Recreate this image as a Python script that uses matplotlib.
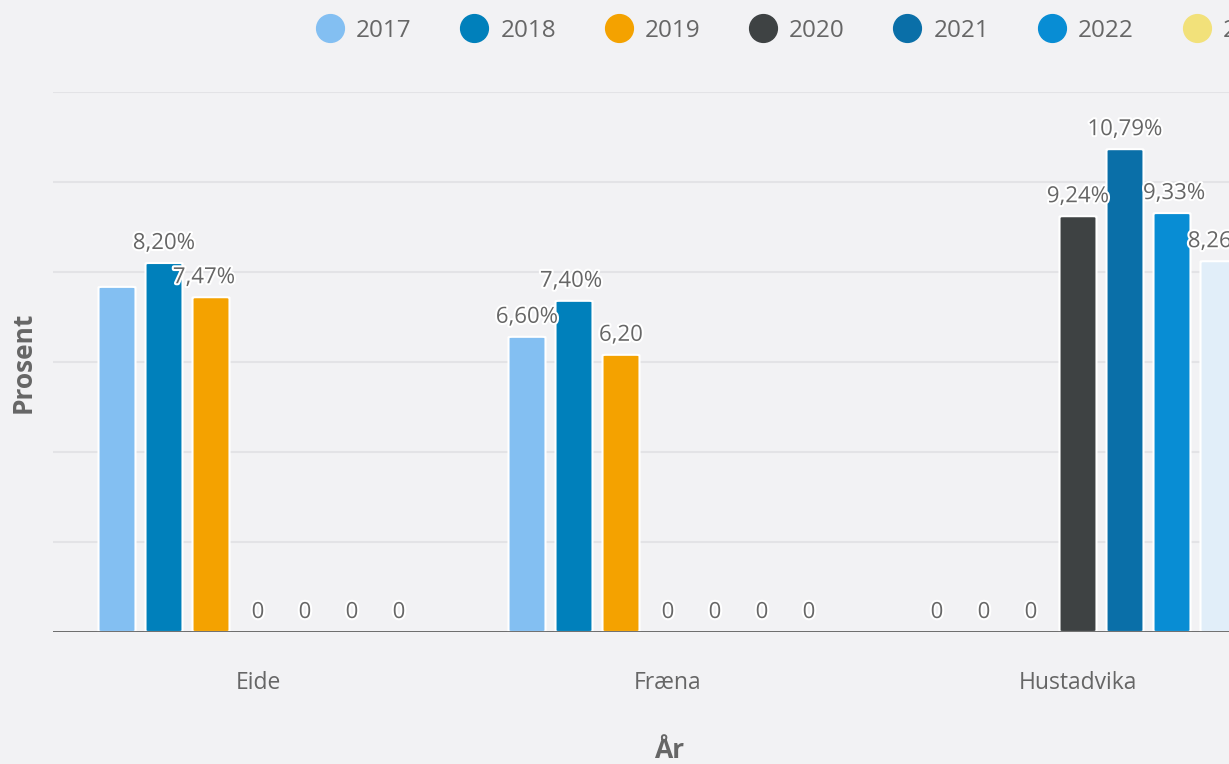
#!/usr/bin/env python3
import numpy as np
from matplotlib import pyplot as plt
from matplotlib import patheffects as pe
from matplotlib.lines import Line2D
from matplotlib.patches import FancyBboxPatch

categories = ['Eide', 'Fræna', 'Hustadvika']
years = ['2017', '2018', '2019', '2020', '2021', '2022', '2023']
values = {
  '2017': [7.67, 6.56, 0],
  '2018': [8.20, 7.36, 0],
  '2019': [7.44, 6.16, 0],
  '2020': [0, 0, 9.24],
  '2021': [0, 0, 10.73],
  '2022': [0, 0, 9.31],
  '2023': [0, 0, 8.24],
}
# labels as shown on the chart (None = hidden by overlap)
labels = {
  '2017': [None, '6,60%', '0'],
  '2018': ['8,20%', '7,40%', '0'],
  '2019': ['7,47%', '6,20', '0'],
  '2020': ['0', '0', '9,24%'],
  '2021': ['0', '0', '10,79%'],
  '2022': ['0', '0', '9,33%'],
  '2023': ['0', '0', '8,26%'],
}
label_shift = {('2019', 0): -0.017, ('2018', 1): -0.007, ('2022', 2): 0.005}
bar_colors = ['#83bff2', '#0080bb', '#f4a200', '#3e4243', '#0a6fa8', '#088dd4', '#e1eef9']
legend_colors = ['#83bff2', '#0080bb', '#f4a200', '#3e4243', '#0a6fa8', '#088dd4', '#f2e17a']

plt.rcParams['font.family'] = ['Open Sans', 'DejaVu Sans']
bg = '#f2f2f4'
txt = '#666666'

fig = plt.figure(figsize=(12.29, 7.64), dpi=100, facecolor=bg)
ax = fig.add_axes((53/1229, 132/764, 1230/1229, 540/764), facecolor=bg)

pitch = 47/410
bw = 37/410
x = np.arange(len(categories))
halo = [pe.withStroke(linewidth=3, foreground='white')]
for i, y in enumerate(years):
  off = (i-3)*pitch
  for j, v in enumerate(values[y]):
    xc = x[j]+off
    if v > 0:
      ax.add_patch(FancyBboxPatch((xc-bw/2, 0), bw, v,
        boxstyle='round,pad=0,rounding_size=0.01', mutation_aspect=1.2,
        fc=bar_colors[i], ec='white', lw=1.5, zorder=3))
    lab = labels[y][j]
    if lab:
      ax.text(xc+label_shift.get((y, j), 0), v+0.2, lab, ha='center', va='bottom',
              fontsize=16, color=txt, path_effects=halo, zorder=5, clip_on=False)

ax.set_xlim(-0.5, 2.5)
ax.set_ylim(0, 12)
ax.set_yticks(np.arange(2, 13, 2))
ax.yaxis.grid(True, color='#e3e3e6', lw=1.5)
ax.set_axisbelow(True)
ax.tick_params(axis='y', length=0, labelleft=False)
ax.set_xticks(x)
ax.set_xticklabels(categories, fontsize=16.5, color=txt)
ax.tick_params(axis='x', length=0, pad=28)
for s in ax.spines.values():
  s.set_visible(False)
ax.axhline(0, color='#444444', lw=1.8, zorder=4)

fig.text(23/1229, 1-362/764, 'Prosent', rotation=90, ha='center', va='center',
         fontsize=19, fontweight='bold', color=txt)
fig.text(669/1229, 1-750/764, 'År', ha='center', va='center',
         fontsize=19, fontweight='bold', color=txt)

handles = [Line2D([], [], ls='none', marker='o', ms=20, mfc=c, mec=c) for c in legend_colors]
fig.legend(handles, years, loc='center left', bbox_to_anchor=(316/1229, 1-31/764), ncol=7,
           frameon=False, fontsize=17.5, labelcolor=txt, handletextpad=0.5,
           columnspacing=2.0, handlelength=1.15, borderaxespad=0, borderpad=0)

fig.savefig('out.png', dpi=100, facecolor=bg)
